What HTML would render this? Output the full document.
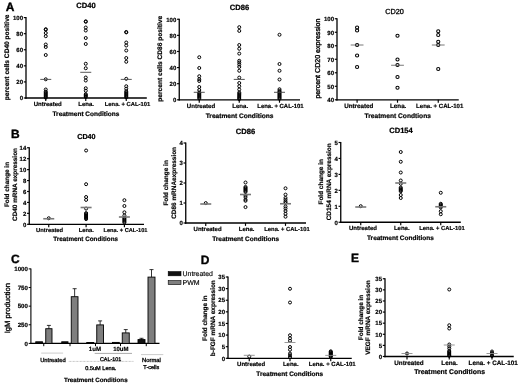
<!DOCTYPE html>
<html><head><meta charset="utf-8"><title>Figure</title>
<style>
html,body{margin:0;padding:0;background:#fff;}
body{width:520px;height:385px;overflow:hidden;}
svg{display:block;font-family:"Liberation Sans", sans-serif;text-rendering:geometricPrecision;filter:blur(0.4px);}
</style></head><body>
<svg width="520" height="385" viewBox="0 0 520 385">
<rect x="0" y="0" width="520" height="385" fill="#fff"/>
<line x1="26" y1="17.1" x2="26" y2="98.65" stroke="#000" stroke-width="1.3"/>
<line x1="25.35" y1="98.0" x2="146.8" y2="98.0" stroke="#000" stroke-width="1.3"/>
<line x1="23.8" y1="98.0" x2="26" y2="98.0" stroke="#000" stroke-width="1.1700000000000002"/>
<text x="23.0" y="100.25" font-size="6.0" font-weight="bold" text-anchor="end" fill="#000" stroke="#000" stroke-width="0.18">0</text>
<line x1="23.8" y1="81.92" x2="26" y2="81.92" stroke="#000" stroke-width="1.1700000000000002"/>
<text x="23.0" y="84.17" font-size="6.0" font-weight="bold" text-anchor="end" fill="#000" stroke="#000" stroke-width="0.18">20</text>
<line x1="23.8" y1="65.84" x2="26" y2="65.84" stroke="#000" stroke-width="1.1700000000000002"/>
<text x="23.0" y="68.09" font-size="6.0" font-weight="bold" text-anchor="end" fill="#000" stroke="#000" stroke-width="0.18">40</text>
<line x1="23.8" y1="49.76" x2="26" y2="49.76" stroke="#000" stroke-width="1.1700000000000002"/>
<text x="23.0" y="52.01" font-size="6.0" font-weight="bold" text-anchor="end" fill="#000" stroke="#000" stroke-width="0.18">60</text>
<line x1="23.8" y1="33.67999999999999" x2="26" y2="33.67999999999999" stroke="#000" stroke-width="1.1700000000000002"/>
<text x="23.0" y="35.93" font-size="6.0" font-weight="bold" text-anchor="end" fill="#000" stroke="#000" stroke-width="0.18">80</text>
<line x1="23.8" y1="17.599999999999994" x2="26" y2="17.599999999999994" stroke="#000" stroke-width="1.1700000000000002"/>
<text x="23.0" y="19.85" font-size="6.0" font-weight="bold" text-anchor="end" fill="#000" stroke="#000" stroke-width="0.18">100</text>
<line x1="45.75" y1="98.0" x2="45.75" y2="100.9" stroke="#000" stroke-width="1.1700000000000002"/>
<text x="47.65" y="106.0" font-size="6.0" font-weight="bold" text-anchor="middle" fill="#000" stroke="#000" stroke-width="0.18">Untreated</text>
<line x1="85.75" y1="98.0" x2="85.75" y2="100.9" stroke="#000" stroke-width="1.1700000000000002"/>
<text x="86.1" y="106.0" font-size="6.0" font-weight="bold" text-anchor="middle" fill="#000" stroke="#000" stroke-width="0.18">Lena.</text>
<line x1="126.25" y1="98.0" x2="126.25" y2="100.9" stroke="#000" stroke-width="1.1700000000000002"/>
<text x="127.5" y="106.0" font-size="5.82" font-weight="bold" text-anchor="middle" fill="#000" stroke="#000" stroke-width="0.17">Lena. + CAL-101</text>
<text x="85.9" y="116.0" font-size="6.5" font-weight="bold" text-anchor="middle" fill="#000" stroke="#000" stroke-width="0.20">Treatment Conditions</text>
<text x="85.9" y="8.0" font-size="7.6" font-weight="bold" text-anchor="middle" fill="#000" stroke="#000" stroke-width="0.23">CD40</text>
<text x="0" y="2.36" font-size="6.6" font-weight="bold" text-anchor="middle" fill="#000" stroke="#000" stroke-width="0.20" transform="translate(7.0 57.4) rotate(-90)">percent cells CD40 positive</text>
<circle cx="45.75" cy="29.2" r="1.5" fill="none" stroke="#000" stroke-width="1.0"/>
<circle cx="45.75" cy="29.7" r="1.5" fill="none" stroke="#000" stroke-width="1.0"/>
<circle cx="45.75" cy="33" r="1.5" fill="none" stroke="#000" stroke-width="1.0"/>
<circle cx="45.75" cy="36.2" r="1.5" fill="none" stroke="#000" stroke-width="1.0"/>
<circle cx="45.75" cy="44.5" r="1.5" fill="none" stroke="#000" stroke-width="1.0"/>
<circle cx="45.75" cy="47" r="1.5" fill="none" stroke="#000" stroke-width="1.0"/>
<circle cx="45.75" cy="55" r="1.5" fill="none" stroke="#000" stroke-width="1.0"/>
<circle cx="45.75" cy="79.3" r="1.5" fill="none" stroke="#000" stroke-width="1.0"/>
<circle cx="45.75" cy="89.5" r="1.5" fill="none" stroke="#000" stroke-width="1.0"/>
<circle cx="45.75" cy="91.6" r="1.5" fill="none" stroke="#000" stroke-width="1.0"/>
<circle cx="45.75" cy="92.6" r="1.5" fill="none" stroke="#000" stroke-width="1.0"/>
<circle cx="45.75" cy="93.6" r="1.5" fill="none" stroke="#000" stroke-width="1.0"/>
<circle cx="45.75" cy="94.6" r="1.5" fill="none" stroke="#000" stroke-width="1.0"/>
<circle cx="45.75" cy="95.6" r="1.5" fill="none" stroke="#000" stroke-width="1.0"/>
<circle cx="45.75" cy="96.6" r="1.5" fill="none" stroke="#000" stroke-width="1.0"/>
<circle cx="45.75" cy="97.6" r="1.5" fill="none" stroke="#000" stroke-width="1.0"/>
<line x1="40.25" y1="79.4" x2="51.25" y2="79.4" stroke="#505050" stroke-width="0.95"/>
<circle cx="85.75" cy="21.3" r="1.5" fill="none" stroke="#000" stroke-width="1.0"/>
<circle cx="85.75" cy="21.8" r="1.5" fill="none" stroke="#000" stroke-width="1.0"/>
<circle cx="85.75" cy="27.5" r="1.5" fill="none" stroke="#000" stroke-width="1.0"/>
<circle cx="85.75" cy="30.5" r="1.5" fill="none" stroke="#000" stroke-width="1.0"/>
<circle cx="85.75" cy="38" r="1.5" fill="none" stroke="#000" stroke-width="1.0"/>
<circle cx="85.75" cy="44" r="1.5" fill="none" stroke="#000" stroke-width="1.0"/>
<circle cx="85.75" cy="63.75" r="1.5" fill="none" stroke="#000" stroke-width="1.0"/>
<circle cx="85.75" cy="68.25" r="1.5" fill="none" stroke="#000" stroke-width="1.0"/>
<circle cx="85.75" cy="77.5" r="1.5" fill="none" stroke="#000" stroke-width="1.0"/>
<circle cx="85.75" cy="80.5" r="1.5" fill="none" stroke="#000" stroke-width="1.0"/>
<circle cx="85.75" cy="88.25" r="1.5" fill="none" stroke="#000" stroke-width="1.0"/>
<circle cx="85.75" cy="90.75" r="1.5" fill="none" stroke="#000" stroke-width="1.0"/>
<circle cx="85.75" cy="94.2" r="1.5" fill="none" stroke="#000" stroke-width="1.0"/>
<circle cx="85.75" cy="95.1" r="1.5" fill="none" stroke="#000" stroke-width="1.0"/>
<circle cx="85.75" cy="96.0" r="1.5" fill="none" stroke="#000" stroke-width="1.0"/>
<circle cx="85.75" cy="96.9" r="1.5" fill="none" stroke="#000" stroke-width="1.0"/>
<line x1="80.25" y1="72.3" x2="91.25" y2="72.3" stroke="#505050" stroke-width="0.95"/>
<circle cx="126.25" cy="32" r="1.5" fill="none" stroke="#000" stroke-width="1.0"/>
<circle cx="126.25" cy="32.4" r="1.5" fill="none" stroke="#000" stroke-width="1.0"/>
<circle cx="126.25" cy="42.5" r="1.5" fill="none" stroke="#000" stroke-width="1.0"/>
<circle cx="126.25" cy="45.5" r="1.5" fill="none" stroke="#000" stroke-width="1.0"/>
<circle cx="126.25" cy="50.5" r="1.5" fill="none" stroke="#000" stroke-width="1.0"/>
<circle cx="126.25" cy="58" r="1.5" fill="none" stroke="#000" stroke-width="1.0"/>
<circle cx="126.25" cy="61.75" r="1.5" fill="none" stroke="#000" stroke-width="1.0"/>
<circle cx="126.25" cy="78.8" r="1.5" fill="none" stroke="#000" stroke-width="1.0"/>
<circle cx="126.25" cy="86.25" r="1.5" fill="none" stroke="#000" stroke-width="1.0"/>
<circle cx="126.25" cy="88.75" r="1.5" fill="none" stroke="#000" stroke-width="1.0"/>
<circle cx="126.25" cy="91.25" r="1.5" fill="none" stroke="#000" stroke-width="1.0"/>
<circle cx="126.25" cy="92.4" r="1.5" fill="none" stroke="#000" stroke-width="1.0"/>
<circle cx="126.25" cy="93.4" r="1.5" fill="none" stroke="#000" stroke-width="1.0"/>
<circle cx="126.25" cy="94.4" r="1.5" fill="none" stroke="#000" stroke-width="1.0"/>
<circle cx="126.25" cy="95.4" r="1.5" fill="none" stroke="#000" stroke-width="1.0"/>
<circle cx="126.25" cy="96.4" r="1.5" fill="none" stroke="#000" stroke-width="1.0"/>
<circle cx="126.25" cy="97.4" r="1.5" fill="none" stroke="#000" stroke-width="1.0"/>
<line x1="120.75" y1="79.4" x2="131.75" y2="79.4" stroke="#505050" stroke-width="0.95"/>
<line x1="179.25" y1="18.75" x2="179.25" y2="100.45" stroke="#000" stroke-width="1.3"/>
<line x1="178.6" y1="99.8" x2="300" y2="99.8" stroke="#000" stroke-width="1.3"/>
<line x1="177.05" y1="99.8" x2="179.25" y2="99.8" stroke="#000" stroke-width="1.1700000000000002"/>
<text x="176.25" y="102.05" font-size="6.0" font-weight="bold" text-anchor="end" fill="#000" stroke="#000" stroke-width="0.18">0</text>
<line x1="177.05" y1="83.69" x2="179.25" y2="83.69" stroke="#000" stroke-width="1.1700000000000002"/>
<text x="176.25" y="85.94" font-size="6.0" font-weight="bold" text-anchor="end" fill="#000" stroke="#000" stroke-width="0.18">20</text>
<line x1="177.05" y1="67.58" x2="179.25" y2="67.58" stroke="#000" stroke-width="1.1700000000000002"/>
<text x="176.25" y="69.83" font-size="6.0" font-weight="bold" text-anchor="end" fill="#000" stroke="#000" stroke-width="0.18">40</text>
<line x1="177.05" y1="51.47" x2="179.25" y2="51.47" stroke="#000" stroke-width="1.1700000000000002"/>
<text x="176.25" y="53.72" font-size="6.0" font-weight="bold" text-anchor="end" fill="#000" stroke="#000" stroke-width="0.18">60</text>
<line x1="177.05" y1="35.36" x2="179.25" y2="35.36" stroke="#000" stroke-width="1.1700000000000002"/>
<text x="176.25" y="37.61" font-size="6.0" font-weight="bold" text-anchor="end" fill="#000" stroke="#000" stroke-width="0.18">80</text>
<line x1="177.05" y1="19.25" x2="179.25" y2="19.25" stroke="#000" stroke-width="1.1700000000000002"/>
<text x="176.25" y="21.5" font-size="6.0" font-weight="bold" text-anchor="end" fill="#000" stroke="#000" stroke-width="0.18">100</text>
<line x1="199.25" y1="99.8" x2="199.25" y2="102.7" stroke="#000" stroke-width="1.1700000000000002"/>
<text x="201" y="108.0" font-size="6.1" font-weight="bold" text-anchor="middle" fill="#000" stroke="#000" stroke-width="0.18">Untreated</text>
<line x1="239.25" y1="99.8" x2="239.25" y2="102.7" stroke="#000" stroke-width="1.1700000000000002"/>
<text x="240.2" y="108.0" font-size="6.1" font-weight="bold" text-anchor="middle" fill="#000" stroke="#000" stroke-width="0.18">Lena.</text>
<line x1="279.5" y1="99.8" x2="279.5" y2="102.7" stroke="#000" stroke-width="1.1700000000000002"/>
<text x="280.5" y="108.0" font-size="5.95" font-weight="bold" text-anchor="middle" fill="#000" stroke="#000" stroke-width="0.18">Lena. + CAL-101</text>
<text x="239.6" y="118.0" font-size="6.6" font-weight="bold" text-anchor="middle" fill="#000" stroke="#000" stroke-width="0.20">Treatment Conditions</text>
<text x="239.5" y="10.0" font-size="7.6" font-weight="bold" text-anchor="middle" fill="#000" stroke="#000" stroke-width="0.23">CD86</text>
<text x="0" y="2.36" font-size="6.6" font-weight="bold" text-anchor="middle" fill="#000" stroke="#000" stroke-width="0.20" transform="translate(160.05 58.8) rotate(-90)">percent cells CD86 positive</text>
<circle cx="199.25" cy="57.25" r="1.5" fill="none" stroke="#000" stroke-width="1.0"/>
<circle cx="199.25" cy="68" r="1.5" fill="none" stroke="#000" stroke-width="1.0"/>
<circle cx="199.25" cy="76.25" r="1.5" fill="none" stroke="#000" stroke-width="1.0"/>
<circle cx="199.25" cy="79.25" r="1.5" fill="none" stroke="#000" stroke-width="1.0"/>
<circle cx="199.25" cy="81" r="1.5" fill="none" stroke="#000" stroke-width="1.0"/>
<circle cx="199.25" cy="87" r="1.5" fill="none" stroke="#000" stroke-width="1.0"/>
<circle cx="199.25" cy="90" r="1.5" fill="none" stroke="#000" stroke-width="1.0"/>
<circle cx="199.25" cy="92.5" r="1.5" fill="none" stroke="#000" stroke-width="1.0"/>
<circle cx="199.25" cy="93.5" r="1.5" fill="none" stroke="#000" stroke-width="1.0"/>
<circle cx="199.25" cy="94.5" r="1.5" fill="none" stroke="#000" stroke-width="1.0"/>
<circle cx="199.25" cy="95.5" r="1.5" fill="none" stroke="#000" stroke-width="1.0"/>
<circle cx="199.25" cy="96.5" r="1.5" fill="none" stroke="#000" stroke-width="1.0"/>
<circle cx="199.25" cy="97.5" r="1.5" fill="none" stroke="#000" stroke-width="1.0"/>
<circle cx="199.25" cy="98.5" r="1.5" fill="none" stroke="#000" stroke-width="1.0"/>
<line x1="193.75" y1="92.3" x2="204.75" y2="92.3" stroke="#484848" stroke-width="0.95"/>
<circle cx="239.25" cy="27.2" r="1.5" fill="none" stroke="#000" stroke-width="1.0"/>
<circle cx="239.25" cy="30.9" r="1.5" fill="none" stroke="#000" stroke-width="1.0"/>
<circle cx="239.25" cy="45" r="1.5" fill="none" stroke="#000" stroke-width="1.0"/>
<circle cx="239.25" cy="48.75" r="1.5" fill="none" stroke="#000" stroke-width="1.0"/>
<circle cx="239.25" cy="53.6" r="1.5" fill="none" stroke="#000" stroke-width="1.0"/>
<circle cx="239.25" cy="60.75" r="1.5" fill="none" stroke="#000" stroke-width="1.0"/>
<circle cx="239.25" cy="62.5" r="1.5" fill="none" stroke="#000" stroke-width="1.0"/>
<circle cx="239.25" cy="64.5" r="1.5" fill="none" stroke="#000" stroke-width="1.0"/>
<circle cx="239.25" cy="66.9" r="1.5" fill="none" stroke="#000" stroke-width="1.0"/>
<circle cx="239.25" cy="70.75" r="1.5" fill="none" stroke="#000" stroke-width="1.0"/>
<circle cx="239.25" cy="77.6" r="1.5" fill="none" stroke="#000" stroke-width="1.0"/>
<circle cx="239.25" cy="83" r="1.5" fill="none" stroke="#000" stroke-width="1.0"/>
<circle cx="239.25" cy="86.25" r="1.5" fill="none" stroke="#000" stroke-width="1.0"/>
<circle cx="239.25" cy="89.5" r="1.5" fill="none" stroke="#000" stroke-width="1.0"/>
<circle cx="239.25" cy="92.5" r="1.5" fill="none" stroke="#000" stroke-width="1.0"/>
<circle cx="239.25" cy="93.6" r="1.5" fill="none" stroke="#000" stroke-width="1.0"/>
<circle cx="239.25" cy="94.7" r="1.5" fill="none" stroke="#000" stroke-width="1.0"/>
<circle cx="239.25" cy="95.8" r="1.5" fill="none" stroke="#000" stroke-width="1.0"/>
<circle cx="239.25" cy="96.9" r="1.5" fill="none" stroke="#000" stroke-width="1.0"/>
<circle cx="239.25" cy="98.0" r="1.5" fill="none" stroke="#000" stroke-width="1.0"/>
<circle cx="239.25" cy="99.1" r="1.5" fill="none" stroke="#000" stroke-width="1.0"/>
<line x1="233.75" y1="79.4" x2="244.75" y2="79.4" stroke="#484848" stroke-width="0.95"/>
<circle cx="279.5" cy="34.75" r="1.5" fill="none" stroke="#000" stroke-width="1.0"/>
<circle cx="279.5" cy="64" r="1.5" fill="none" stroke="#000" stroke-width="1.0"/>
<circle cx="279.5" cy="70.75" r="1.5" fill="none" stroke="#000" stroke-width="1.0"/>
<circle cx="279.5" cy="79.5" r="1.5" fill="none" stroke="#000" stroke-width="1.0"/>
<circle cx="279.5" cy="89.25" r="1.5" fill="none" stroke="#000" stroke-width="1.0"/>
<circle cx="279.5" cy="90.8" r="1.5" fill="none" stroke="#000" stroke-width="1.0"/>
<circle cx="279.5" cy="91.8" r="1.5" fill="none" stroke="#000" stroke-width="1.0"/>
<circle cx="279.5" cy="92.8" r="1.5" fill="none" stroke="#000" stroke-width="1.0"/>
<circle cx="279.5" cy="93.8" r="1.5" fill="none" stroke="#000" stroke-width="1.0"/>
<circle cx="279.5" cy="94.8" r="1.5" fill="none" stroke="#000" stroke-width="1.0"/>
<circle cx="279.5" cy="95.8" r="1.5" fill="none" stroke="#000" stroke-width="1.0"/>
<circle cx="279.5" cy="96.8" r="1.5" fill="none" stroke="#000" stroke-width="1.0"/>
<circle cx="279.5" cy="97.8" r="1.5" fill="none" stroke="#000" stroke-width="1.0"/>
<circle cx="279.5" cy="98.8" r="1.5" fill="none" stroke="#000" stroke-width="1.0"/>
<line x1="274.0" y1="92.3" x2="285.0" y2="92.3" stroke="#484848" stroke-width="0.95"/>
<line x1="337" y1="18.25" x2="337" y2="100.45" stroke="#000" stroke-width="1.3"/>
<line x1="336.35" y1="99.8" x2="458.75" y2="99.8" stroke="#000" stroke-width="1.3"/>
<line x1="334.8" y1="99.8" x2="337" y2="99.8" stroke="#000" stroke-width="1.1700000000000002"/>
<text x="334.0" y="102.05" font-size="6.0" font-weight="bold" text-anchor="end" fill="#000" stroke="#000" stroke-width="0.18">40</text>
<line x1="334.8" y1="86.29166666666666" x2="337" y2="86.29166666666666" stroke="#000" stroke-width="1.1700000000000002"/>
<text x="334.0" y="88.54" font-size="6.0" font-weight="bold" text-anchor="end" fill="#000" stroke="#000" stroke-width="0.18">50</text>
<line x1="334.8" y1="72.78333333333333" x2="337" y2="72.78333333333333" stroke="#000" stroke-width="1.1700000000000002"/>
<text x="334.0" y="75.03" font-size="6.0" font-weight="bold" text-anchor="end" fill="#000" stroke="#000" stroke-width="0.18">60</text>
<line x1="334.8" y1="59.275" x2="337" y2="59.275" stroke="#000" stroke-width="1.1700000000000002"/>
<text x="334.0" y="61.52" font-size="6.0" font-weight="bold" text-anchor="end" fill="#000" stroke="#000" stroke-width="0.18">70</text>
<line x1="334.8" y1="45.766666666666666" x2="337" y2="45.766666666666666" stroke="#000" stroke-width="1.1700000000000002"/>
<text x="334.0" y="48.02" font-size="6.0" font-weight="bold" text-anchor="end" fill="#000" stroke="#000" stroke-width="0.18">80</text>
<line x1="334.8" y1="32.258333333333326" x2="337" y2="32.258333333333326" stroke="#000" stroke-width="1.1700000000000002"/>
<text x="334.0" y="34.51" font-size="6.0" font-weight="bold" text-anchor="end" fill="#000" stroke="#000" stroke-width="0.18">90</text>
<line x1="334.8" y1="18.75" x2="337" y2="18.75" stroke="#000" stroke-width="1.1700000000000002"/>
<text x="334.0" y="21.0" font-size="6.0" font-weight="bold" text-anchor="end" fill="#000" stroke="#000" stroke-width="0.18">100</text>
<line x1="357.1" y1="99.8" x2="357.1" y2="102.7" stroke="#000" stroke-width="1.1700000000000002"/>
<text x="358.8" y="108.0" font-size="6.25" font-weight="bold" text-anchor="middle" fill="#000" stroke="#000" stroke-width="0.19">Untreated</text>
<line x1="397.5" y1="99.8" x2="397.5" y2="102.7" stroke="#000" stroke-width="1.1700000000000002"/>
<text x="398.2" y="108.0" font-size="6.25" font-weight="bold" text-anchor="middle" fill="#000" stroke="#000" stroke-width="0.19">Lena.</text>
<line x1="438.25" y1="99.8" x2="438.25" y2="102.7" stroke="#000" stroke-width="1.1700000000000002"/>
<text x="439.7" y="108.0" font-size="6.05" font-weight="bold" text-anchor="middle" fill="#000" stroke="#000" stroke-width="0.18">Lena. + CAL-101</text>
<text x="397.7" y="118.0" font-size="6.65" font-weight="bold" text-anchor="middle" fill="#000" stroke="#000" stroke-width="0.20">Treatment Condtions</text>
<text x="394.6" y="14.0" font-size="7.3" font-weight="normal" text-anchor="middle" fill="#000" stroke="#000" stroke-width="0.3">CD20</text>
<text x="0" y="2.54" font-size="7.1" font-weight="normal" text-anchor="middle" fill="#000" stroke="#000" stroke-width="0.35" transform="translate(317.90000000000003 58.6) rotate(-90)">percent CD20 expression</text>
<circle cx="357.1" cy="27.5" r="1.58" fill="none" stroke="#000" stroke-width="1.05"/>
<circle cx="357.1" cy="30.5" r="1.58" fill="none" stroke="#000" stroke-width="1.05"/>
<circle cx="357.1" cy="45" r="1.58" fill="none" stroke="#000" stroke-width="1.05"/>
<circle cx="357.1" cy="55.5" r="1.58" fill="none" stroke="#000" stroke-width="1.05"/>
<circle cx="357.1" cy="67" r="1.58" fill="none" stroke="#000" stroke-width="1.05"/>
<line x1="350.70000000000005" y1="45" x2="363.5" y2="45" stroke="#555" stroke-width="0.8"/>
<circle cx="397.5" cy="35.75" r="1.58" fill="none" stroke="#000" stroke-width="1.05"/>
<circle cx="397.5" cy="59.5" r="1.58" fill="none" stroke="#000" stroke-width="1.05"/>
<circle cx="397.5" cy="65" r="1.58" fill="none" stroke="#000" stroke-width="1.05"/>
<circle cx="397.5" cy="77" r="1.58" fill="none" stroke="#000" stroke-width="1.05"/>
<circle cx="397.5" cy="87.75" r="1.58" fill="none" stroke="#000" stroke-width="1.05"/>
<line x1="391.1" y1="65.25" x2="403.9" y2="65.25" stroke="#555" stroke-width="0.8"/>
<circle cx="438.25" cy="31.25" r="1.58" fill="none" stroke="#000" stroke-width="1.05"/>
<circle cx="438.25" cy="35" r="1.58" fill="none" stroke="#000" stroke-width="1.05"/>
<circle cx="438.25" cy="41.75" r="1.58" fill="none" stroke="#000" stroke-width="1.05"/>
<circle cx="438.25" cy="45" r="1.58" fill="none" stroke="#000" stroke-width="1.05"/>
<circle cx="438.25" cy="69" r="1.58" fill="none" stroke="#000" stroke-width="1.05"/>
<line x1="431.85" y1="45" x2="444.65" y2="45" stroke="#555" stroke-width="0.8"/>
<line x1="29.25" y1="147.25" x2="29.25" y2="224.95000000000002" stroke="#000" stroke-width="1.3"/>
<line x1="28.6" y1="224.3" x2="144" y2="224.3" stroke="#000" stroke-width="1.3"/>
<line x1="27.05" y1="224.3" x2="29.25" y2="224.3" stroke="#000" stroke-width="1.1700000000000002"/>
<text x="26.25" y="226.55" font-size="6.0" font-weight="bold" text-anchor="end" fill="#000" stroke="#000" stroke-width="0.18">0</text>
<line x1="27.05" y1="213.36428571428573" x2="29.25" y2="213.36428571428573" stroke="#000" stroke-width="1.1700000000000002"/>
<text x="26.25" y="215.61" font-size="6.0" font-weight="bold" text-anchor="end" fill="#000" stroke="#000" stroke-width="0.18">2</text>
<line x1="27.05" y1="202.42857142857144" x2="29.25" y2="202.42857142857144" stroke="#000" stroke-width="1.1700000000000002"/>
<text x="26.25" y="204.68" font-size="6.0" font-weight="bold" text-anchor="end" fill="#000" stroke="#000" stroke-width="0.18">4</text>
<line x1="27.05" y1="191.49285714285713" x2="29.25" y2="191.49285714285713" stroke="#000" stroke-width="1.1700000000000002"/>
<text x="26.25" y="193.74" font-size="6.0" font-weight="bold" text-anchor="end" fill="#000" stroke="#000" stroke-width="0.18">6</text>
<line x1="27.05" y1="180.55714285714288" x2="29.25" y2="180.55714285714288" stroke="#000" stroke-width="1.1700000000000002"/>
<text x="26.25" y="182.81" font-size="6.0" font-weight="bold" text-anchor="end" fill="#000" stroke="#000" stroke-width="0.18">8</text>
<line x1="27.05" y1="169.62142857142857" x2="29.25" y2="169.62142857142857" stroke="#000" stroke-width="1.1700000000000002"/>
<text x="26.25" y="171.87" font-size="6.0" font-weight="bold" text-anchor="end" fill="#000" stroke="#000" stroke-width="0.18">10</text>
<line x1="27.05" y1="158.68571428571428" x2="29.25" y2="158.68571428571428" stroke="#000" stroke-width="1.1700000000000002"/>
<text x="26.25" y="160.94" font-size="6.0" font-weight="bold" text-anchor="end" fill="#000" stroke="#000" stroke-width="0.18">12</text>
<line x1="27.05" y1="147.75" x2="29.25" y2="147.75" stroke="#000" stroke-width="1.1700000000000002"/>
<text x="26.25" y="150.0" font-size="6.0" font-weight="bold" text-anchor="end" fill="#000" stroke="#000" stroke-width="0.18">14</text>
<line x1="48.75" y1="224.3" x2="48.75" y2="227.20000000000002" stroke="#000" stroke-width="1.1700000000000002"/>
<text x="49.6" y="232.0" font-size="5.8" font-weight="bold" text-anchor="middle" fill="#000" stroke="#000" stroke-width="0.17">Untreated</text>
<line x1="86.1" y1="224.3" x2="86.1" y2="227.20000000000002" stroke="#000" stroke-width="1.1700000000000002"/>
<text x="86.2" y="232.0" font-size="5.8" font-weight="bold" text-anchor="middle" fill="#000" stroke="#000" stroke-width="0.17">Lena.</text>
<line x1="124.4" y1="224.3" x2="124.4" y2="227.20000000000002" stroke="#000" stroke-width="1.1700000000000002"/>
<text x="125.5" y="232.0" font-size="5.63" font-weight="bold" text-anchor="middle" fill="#000" stroke="#000" stroke-width="0.17">Lena. + CAL-101</text>
<text x="85.7" y="241.0" font-size="6.3" font-weight="bold" text-anchor="middle" fill="#000" stroke="#000" stroke-width="0.19">Treatment Conditions</text>
<text x="86.4" y="139.0" font-size="7.2" font-weight="bold" text-anchor="middle" fill="#000" stroke="#000" stroke-width="0.22">CD40</text>
<text x="0" y="2.29" font-size="6.4" font-weight="bold" text-anchor="middle" fill="#000" stroke="#000" stroke-width="0.19" transform="translate(7.1 184.5) rotate(-90)">Fold change in</text>
<text x="0" y="2.29" font-size="6.4" font-weight="bold" text-anchor="middle" fill="#000" stroke="#000" stroke-width="0.19" transform="translate(14.3 184.5) rotate(-90)">CD40 mRNA expression</text>
<circle cx="48.75" cy="218.25" r="1.5" fill="none" stroke="#000" stroke-width="1.0"/>
<line x1="43.25" y1="218.75" x2="54.25" y2="218.75" stroke="#787878" stroke-width="1.6"/>
<circle cx="86.1" cy="150.5" r="1.5" fill="none" stroke="#000" stroke-width="1.0"/>
<circle cx="86.1" cy="184.2" r="1.5" fill="none" stroke="#000" stroke-width="1.0"/>
<circle cx="86.1" cy="197" r="1.5" fill="none" stroke="#000" stroke-width="1.0"/>
<circle cx="86.1" cy="199.9" r="1.5" fill="none" stroke="#000" stroke-width="1.0"/>
<circle cx="86.1" cy="208.6" r="1.5" fill="none" stroke="#000" stroke-width="1.0"/>
<circle cx="86.1" cy="213.1" r="1.5" fill="none" stroke="#000" stroke-width="1.0"/>
<circle cx="86.1" cy="214.1" r="1.5" fill="none" stroke="#000" stroke-width="1.0"/>
<circle cx="86.1" cy="215.1" r="1.5" fill="none" stroke="#000" stroke-width="1.0"/>
<circle cx="86.1" cy="216.1" r="1.5" fill="none" stroke="#000" stroke-width="1.0"/>
<circle cx="86.1" cy="217.1" r="1.5" fill="none" stroke="#000" stroke-width="1.0"/>
<circle cx="86.1" cy="218.1" r="1.5" fill="none" stroke="#000" stroke-width="1.0"/>
<circle cx="86.1" cy="219.1" r="1.5" fill="none" stroke="#000" stroke-width="1.0"/>
<line x1="80.6" y1="207.5" x2="91.6" y2="207.5" stroke="#787878" stroke-width="1.6"/>
<circle cx="124.4" cy="200.2" r="1.5" fill="none" stroke="#000" stroke-width="1.0"/>
<circle cx="124.4" cy="206" r="1.5" fill="none" stroke="#000" stroke-width="1.0"/>
<circle cx="124.4" cy="212.3" r="1.5" fill="none" stroke="#000" stroke-width="1.0"/>
<circle cx="124.4" cy="215.5" r="1.5" fill="none" stroke="#000" stroke-width="1.0"/>
<circle cx="124.4" cy="217.6" r="1.5" fill="none" stroke="#000" stroke-width="1.0"/>
<circle cx="124.4" cy="218.6" r="1.5" fill="none" stroke="#000" stroke-width="1.0"/>
<circle cx="124.4" cy="219.6" r="1.5" fill="none" stroke="#000" stroke-width="1.0"/>
<circle cx="124.4" cy="220.6" r="1.5" fill="none" stroke="#000" stroke-width="1.0"/>
<circle cx="124.4" cy="221.6" r="1.5" fill="none" stroke="#000" stroke-width="1.0"/>
<circle cx="124.4" cy="222.6" r="1.5" fill="none" stroke="#000" stroke-width="1.0"/>
<line x1="118.9" y1="217" x2="129.9" y2="217" stroke="#787878" stroke-width="1.6"/>
<line x1="185.75" y1="142.5" x2="185.75" y2="223.65" stroke="#000" stroke-width="1.3"/>
<line x1="185.1" y1="223.0" x2="306" y2="223.0" stroke="#000" stroke-width="1.3"/>
<line x1="183.55" y1="223.0" x2="185.75" y2="223.0" stroke="#000" stroke-width="1.1700000000000002"/>
<text x="182.75" y="225.25" font-size="6.0" font-weight="bold" text-anchor="end" fill="#000" stroke="#000" stroke-width="0.18">0</text>
<line x1="183.55" y1="203.0" x2="185.75" y2="203.0" stroke="#000" stroke-width="1.1700000000000002"/>
<text x="182.75" y="205.25" font-size="6.0" font-weight="bold" text-anchor="end" fill="#000" stroke="#000" stroke-width="0.18">1</text>
<line x1="183.55" y1="183.0" x2="185.75" y2="183.0" stroke="#000" stroke-width="1.1700000000000002"/>
<text x="182.75" y="185.25" font-size="6.0" font-weight="bold" text-anchor="end" fill="#000" stroke="#000" stroke-width="0.18">2</text>
<line x1="183.55" y1="163.0" x2="185.75" y2="163.0" stroke="#000" stroke-width="1.1700000000000002"/>
<text x="182.75" y="165.25" font-size="6.0" font-weight="bold" text-anchor="end" fill="#000" stroke="#000" stroke-width="0.18">3</text>
<line x1="183.55" y1="143.0" x2="185.75" y2="143.0" stroke="#000" stroke-width="1.1700000000000002"/>
<text x="182.75" y="145.25" font-size="6.0" font-weight="bold" text-anchor="end" fill="#000" stroke="#000" stroke-width="0.18">4</text>
<line x1="205.75" y1="223.0" x2="205.75" y2="225.9" stroke="#000" stroke-width="1.1700000000000002"/>
<text x="207.6" y="231.0" font-size="6.0" font-weight="bold" text-anchor="middle" fill="#000" stroke="#000" stroke-width="0.18">Untreated</text>
<line x1="245.5" y1="223.0" x2="245.5" y2="225.9" stroke="#000" stroke-width="1.1700000000000002"/>
<text x="246.6" y="231.0" font-size="6.0" font-weight="bold" text-anchor="middle" fill="#000" stroke="#000" stroke-width="0.18">Lena.</text>
<line x1="285.5" y1="223.0" x2="285.5" y2="225.9" stroke="#000" stroke-width="1.1700000000000002"/>
<text x="287" y="231.0" font-size="5.82" font-weight="bold" text-anchor="middle" fill="#000" stroke="#000" stroke-width="0.17">Lena. + CAL-101</text>
<text x="245.6" y="241.0" font-size="6.5" font-weight="bold" text-anchor="middle" fill="#000" stroke="#000" stroke-width="0.20">Treatment Conditions</text>
<text x="245.5" y="134.0" font-size="7.6" font-weight="bold" text-anchor="middle" fill="#000" stroke="#000" stroke-width="0.23">CD86</text>
<text x="0" y="2.31" font-size="6.45" font-weight="bold" text-anchor="middle" fill="#000" stroke="#000" stroke-width="0.19" transform="translate(166.0 182.9) rotate(-90)">Fold change in</text>
<text x="0" y="2.31" font-size="6.45" font-weight="bold" text-anchor="middle" fill="#000" stroke="#000" stroke-width="0.19" transform="translate(173.3 182.9) rotate(-90)">CD86 mRNAexpression</text>
<circle cx="205.75" cy="203.1" r="1.5" fill="none" stroke="#000" stroke-width="1.0"/>
<line x1="200.25" y1="204" x2="211.25" y2="204" stroke="#787878" stroke-width="1.6"/>
<circle cx="245.5" cy="182.5" r="1.5" fill="none" stroke="#000" stroke-width="1.0"/>
<circle cx="245.5" cy="186.9" r="1.5" fill="none" stroke="#000" stroke-width="1.0"/>
<circle cx="245.5" cy="187.9" r="1.5" fill="none" stroke="#000" stroke-width="1.0"/>
<circle cx="245.5" cy="188.9" r="1.5" fill="none" stroke="#000" stroke-width="1.0"/>
<circle cx="245.5" cy="189.9" r="1.5" fill="none" stroke="#000" stroke-width="1.0"/>
<circle cx="245.5" cy="190.9" r="1.5" fill="none" stroke="#000" stroke-width="1.0"/>
<circle cx="245.5" cy="191.9" r="1.5" fill="none" stroke="#000" stroke-width="1.0"/>
<circle cx="245.5" cy="195.2" r="1.5" fill="none" stroke="#000" stroke-width="1.0"/>
<circle cx="245.5" cy="197" r="1.5" fill="none" stroke="#000" stroke-width="1.0"/>
<circle cx="245.5" cy="199.5" r="1.5" fill="none" stroke="#000" stroke-width="1.0"/>
<circle cx="245.5" cy="200.8" r="1.5" fill="none" stroke="#000" stroke-width="1.0"/>
<circle cx="245.5" cy="207.1" r="1.5" fill="none" stroke="#000" stroke-width="1.0"/>
<line x1="240.0" y1="194.5" x2="251.0" y2="194.5" stroke="#787878" stroke-width="1.6"/>
<circle cx="285.5" cy="188.3" r="1.5" fill="none" stroke="#000" stroke-width="1.0"/>
<circle cx="285.5" cy="194.6" r="1.5" fill="none" stroke="#000" stroke-width="1.0"/>
<circle cx="285.5" cy="197.9" r="1.5" fill="none" stroke="#000" stroke-width="1.0"/>
<circle cx="285.5" cy="199.8" r="1.5" fill="none" stroke="#000" stroke-width="1.0"/>
<circle cx="285.5" cy="201.7" r="1.5" fill="none" stroke="#000" stroke-width="1.0"/>
<circle cx="285.5" cy="203" r="1.5" fill="none" stroke="#000" stroke-width="1.0"/>
<circle cx="285.5" cy="206.5" r="1.5" fill="none" stroke="#000" stroke-width="1.0"/>
<circle cx="285.5" cy="208.5" r="1.5" fill="none" stroke="#000" stroke-width="1.0"/>
<circle cx="285.5" cy="211" r="1.5" fill="none" stroke="#000" stroke-width="1.0"/>
<circle cx="285.5" cy="213.8" r="1.5" fill="none" stroke="#000" stroke-width="1.0"/>
<circle cx="285.5" cy="216.7" r="1.5" fill="none" stroke="#000" stroke-width="1.0"/>
<line x1="280.0" y1="203.75" x2="291.0" y2="203.75" stroke="#787878" stroke-width="1.6"/>
<line x1="340.75" y1="142.0" x2="340.75" y2="222.9" stroke="#000" stroke-width="1.3"/>
<line x1="340.1" y1="222.25" x2="460.8" y2="222.25" stroke="#000" stroke-width="1.3"/>
<line x1="338.55" y1="222.25" x2="340.75" y2="222.25" stroke="#000" stroke-width="1.1700000000000002"/>
<text x="337.75" y="224.5" font-size="6.0" font-weight="bold" text-anchor="end" fill="#000" stroke="#000" stroke-width="0.18">0</text>
<line x1="338.55" y1="206.3" x2="340.75" y2="206.3" stroke="#000" stroke-width="1.1700000000000002"/>
<text x="337.75" y="208.55" font-size="6.0" font-weight="bold" text-anchor="end" fill="#000" stroke="#000" stroke-width="0.18">1</text>
<line x1="338.55" y1="190.35" x2="340.75" y2="190.35" stroke="#000" stroke-width="1.1700000000000002"/>
<text x="337.75" y="192.6" font-size="6.0" font-weight="bold" text-anchor="end" fill="#000" stroke="#000" stroke-width="0.18">2</text>
<line x1="338.55" y1="174.4" x2="340.75" y2="174.4" stroke="#000" stroke-width="1.1700000000000002"/>
<text x="337.75" y="176.65" font-size="6.0" font-weight="bold" text-anchor="end" fill="#000" stroke="#000" stroke-width="0.18">3</text>
<line x1="338.55" y1="158.45" x2="340.75" y2="158.45" stroke="#000" stroke-width="1.1700000000000002"/>
<text x="337.75" y="160.7" font-size="6.0" font-weight="bold" text-anchor="end" fill="#000" stroke="#000" stroke-width="0.18">4</text>
<line x1="338.55" y1="142.5" x2="340.75" y2="142.5" stroke="#000" stroke-width="1.1700000000000002"/>
<text x="337.75" y="144.75" font-size="6.0" font-weight="bold" text-anchor="end" fill="#000" stroke="#000" stroke-width="0.18">5</text>
<line x1="360.75" y1="222.25" x2="360.75" y2="225.15" stroke="#000" stroke-width="1.1700000000000002"/>
<text x="362.9" y="230.0" font-size="6.0" font-weight="bold" text-anchor="middle" fill="#000" stroke="#000" stroke-width="0.18">Untreated</text>
<line x1="400.75" y1="222.25" x2="400.75" y2="225.15" stroke="#000" stroke-width="1.1700000000000002"/>
<text x="401.8" y="230.0" font-size="6.0" font-weight="bold" text-anchor="middle" fill="#000" stroke="#000" stroke-width="0.18">Lena.</text>
<line x1="440.75" y1="222.25" x2="440.75" y2="225.15" stroke="#000" stroke-width="1.1700000000000002"/>
<text x="442" y="230.0" font-size="5.82" font-weight="bold" text-anchor="middle" fill="#000" stroke="#000" stroke-width="0.17">Lena. + CAL-101</text>
<text x="400.4" y="240.0" font-size="6.5" font-weight="bold" text-anchor="middle" fill="#000" stroke="#000" stroke-width="0.20">Treatment Conditions</text>
<text x="401" y="133.0" font-size="7.6" font-weight="bold" text-anchor="middle" fill="#000" stroke="#000" stroke-width="0.23">CD154</text>
<text x="0" y="2.31" font-size="6.45" font-weight="bold" text-anchor="middle" fill="#000" stroke="#000" stroke-width="0.19" transform="translate(321.0 181.8) rotate(-90)">Fold change in</text>
<text x="0" y="2.31" font-size="6.45" font-weight="bold" text-anchor="middle" fill="#000" stroke="#000" stroke-width="0.19" transform="translate(328.5 181.8) rotate(-90)">CD154 mRNA expression</text>
<circle cx="360.75" cy="206.2" r="1.5" fill="none" stroke="#000" stroke-width="1.0"/>
<line x1="355.25" y1="207" x2="366.25" y2="207" stroke="#787878" stroke-width="1.6"/>
<circle cx="400.75" cy="152" r="1.5" fill="none" stroke="#000" stroke-width="1.0"/>
<circle cx="400.75" cy="161.75" r="1.5" fill="none" stroke="#000" stroke-width="1.0"/>
<circle cx="400.75" cy="172.5" r="1.5" fill="none" stroke="#000" stroke-width="1.0"/>
<circle cx="400.75" cy="180.5" r="1.5" fill="none" stroke="#000" stroke-width="1.0"/>
<circle cx="400.75" cy="183.75" r="1.5" fill="none" stroke="#000" stroke-width="1.0"/>
<circle cx="400.75" cy="187.5" r="1.5" fill="none" stroke="#000" stroke-width="1.0"/>
<circle cx="400.75" cy="188.5" r="1.5" fill="none" stroke="#000" stroke-width="1.0"/>
<circle cx="400.75" cy="189.5" r="1.5" fill="none" stroke="#000" stroke-width="1.0"/>
<circle cx="400.75" cy="190.4" r="1.5" fill="none" stroke="#000" stroke-width="1.0"/>
<circle cx="400.75" cy="191.25" r="1.5" fill="none" stroke="#000" stroke-width="1.0"/>
<circle cx="400.75" cy="195" r="1.5" fill="none" stroke="#000" stroke-width="1.0"/>
<circle cx="400.75" cy="198" r="1.5" fill="none" stroke="#000" stroke-width="1.0"/>
<line x1="395.25" y1="183" x2="406.25" y2="183" stroke="#787878" stroke-width="1.6"/>
<circle cx="440.75" cy="192.75" r="1.5" fill="none" stroke="#000" stroke-width="1.0"/>
<circle cx="440.75" cy="203.75" r="1.5" fill="none" stroke="#000" stroke-width="1.0"/>
<circle cx="440.75" cy="204.6" r="1.5" fill="none" stroke="#000" stroke-width="1.0"/>
<circle cx="440.75" cy="205.5" r="1.5" fill="none" stroke="#000" stroke-width="1.0"/>
<circle cx="440.75" cy="206.5" r="1.5" fill="none" stroke="#000" stroke-width="1.0"/>
<circle cx="440.75" cy="207.5" r="1.5" fill="none" stroke="#000" stroke-width="1.0"/>
<circle cx="440.75" cy="211.25" r="1.5" fill="none" stroke="#000" stroke-width="1.0"/>
<circle cx="440.75" cy="214.25" r="1.5" fill="none" stroke="#000" stroke-width="1.0"/>
<line x1="435.25" y1="206.75" x2="446.25" y2="206.75" stroke="#787878" stroke-width="1.6"/>
<line x1="228" y1="276.5" x2="228" y2="358.95" stroke="#000" stroke-width="1.3"/>
<line x1="227.35" y1="358.3" x2="351.75" y2="358.3" stroke="#000" stroke-width="1.3"/>
<line x1="225.8" y1="358.3" x2="228" y2="358.3" stroke="#000" stroke-width="1.1700000000000002"/>
<text x="225.0" y="360.55" font-size="6.0" font-weight="bold" text-anchor="end" fill="#000" stroke="#000" stroke-width="0.18">0</text>
<line x1="225.8" y1="346.6857142857143" x2="228" y2="346.6857142857143" stroke="#000" stroke-width="1.1700000000000002"/>
<text x="225.0" y="348.94" font-size="6.0" font-weight="bold" text-anchor="end" fill="#000" stroke="#000" stroke-width="0.18">5</text>
<line x1="225.8" y1="335.07142857142856" x2="228" y2="335.07142857142856" stroke="#000" stroke-width="1.1700000000000002"/>
<text x="225.0" y="337.32" font-size="6.0" font-weight="bold" text-anchor="end" fill="#000" stroke="#000" stroke-width="0.18">10</text>
<line x1="225.8" y1="323.45714285714286" x2="228" y2="323.45714285714286" stroke="#000" stroke-width="1.1700000000000002"/>
<text x="225.0" y="325.71" font-size="6.0" font-weight="bold" text-anchor="end" fill="#000" stroke="#000" stroke-width="0.18">15</text>
<line x1="225.8" y1="311.84285714285716" x2="228" y2="311.84285714285716" stroke="#000" stroke-width="1.1700000000000002"/>
<text x="225.0" y="314.09" font-size="6.0" font-weight="bold" text-anchor="end" fill="#000" stroke="#000" stroke-width="0.18">20</text>
<line x1="225.8" y1="300.22857142857146" x2="228" y2="300.22857142857146" stroke="#000" stroke-width="1.1700000000000002"/>
<text x="225.0" y="302.48" font-size="6.0" font-weight="bold" text-anchor="end" fill="#000" stroke="#000" stroke-width="0.18">25</text>
<line x1="225.8" y1="288.6142857142857" x2="228" y2="288.6142857142857" stroke="#000" stroke-width="1.1700000000000002"/>
<text x="225.0" y="290.86" font-size="6.0" font-weight="bold" text-anchor="end" fill="#000" stroke="#000" stroke-width="0.18">30</text>
<line x1="225.8" y1="277.0" x2="228" y2="277.0" stroke="#000" stroke-width="1.1700000000000002"/>
<text x="225.0" y="279.25" font-size="6.0" font-weight="bold" text-anchor="end" fill="#000" stroke="#000" stroke-width="0.18">35</text>
<line x1="249.25" y1="358.3" x2="249.25" y2="361.2" stroke="#000" stroke-width="1.1700000000000002"/>
<text x="251.1" y="366.0" font-size="6.0" font-weight="bold" text-anchor="middle" fill="#000" stroke="#000" stroke-width="0.18">Untreated</text>
<line x1="290" y1="358.3" x2="290" y2="361.2" stroke="#000" stroke-width="1.1700000000000002"/>
<text x="290.8" y="366.0" font-size="6.0" font-weight="bold" text-anchor="middle" fill="#000" stroke="#000" stroke-width="0.18">Lena.</text>
<line x1="330.75" y1="358.3" x2="330.75" y2="361.2" stroke="#000" stroke-width="1.1700000000000002"/>
<text x="332.3" y="366.0" font-size="6.0" font-weight="bold" text-anchor="middle" fill="#000" stroke="#000" stroke-width="0.18">Lena. + CAL-101</text>
<text x="289.7" y="376.0" font-size="6.5" font-weight="bold" text-anchor="middle" fill="#000" stroke="#000" stroke-width="0.20">Treatment Conditions</text>
<text x="0" y="2.31" font-size="6.45" font-weight="bold" text-anchor="middle" fill="#000" stroke="#000" stroke-width="0.19" transform="translate(204.70000000000002 318.2) rotate(-90)">Fold change in</text>
<text x="0" y="2.31" font-size="6.45" font-weight="bold" text-anchor="middle" fill="#000" stroke="#000" stroke-width="0.19" transform="translate(213.0 318.2) rotate(-90)">b-FGF mRNA expression</text>
<circle cx="249.25" cy="356.6" r="1.5" fill="none" stroke="#000" stroke-width="1.0"/>
<line x1="243.75" y1="355.3" x2="254.75" y2="355.3" stroke="#8c8c8c" stroke-width="0.9"/>
<circle cx="290" cy="288.75" r="1.5" fill="none" stroke="#000" stroke-width="1.0"/>
<circle cx="290" cy="302.5" r="1.5" fill="none" stroke="#000" stroke-width="1.0"/>
<circle cx="290" cy="335.25" r="1.5" fill="none" stroke="#000" stroke-width="1.0"/>
<circle cx="290" cy="338.25" r="1.5" fill="none" stroke="#000" stroke-width="1.0"/>
<circle cx="290" cy="340.75" r="1.5" fill="none" stroke="#000" stroke-width="1.0"/>
<circle cx="290" cy="347" r="1.5" fill="none" stroke="#000" stroke-width="1.0"/>
<circle cx="290" cy="349.75" r="1.5" fill="none" stroke="#000" stroke-width="1.0"/>
<circle cx="290" cy="353.5" r="1.5" fill="none" stroke="#000" stroke-width="1.0"/>
<circle cx="290" cy="355.25" r="1.5" fill="none" stroke="#000" stroke-width="1.0"/>
<circle cx="290" cy="357" r="1.5" fill="none" stroke="#000" stroke-width="1.0"/>
<line x1="284.5" y1="342.5" x2="295.5" y2="342.5" stroke="#8c8c8c" stroke-width="0.9"/>
<circle cx="330.75" cy="351.3" r="1.5" fill="none" stroke="#000" stroke-width="1.0"/>
<circle cx="330.75" cy="352.0" r="1.5" fill="none" stroke="#000" stroke-width="1.0"/>
<circle cx="330.75" cy="352.7" r="1.5" fill="none" stroke="#000" stroke-width="1.0"/>
<circle cx="330.75" cy="353.4" r="1.5" fill="none" stroke="#000" stroke-width="1.0"/>
<circle cx="330.75" cy="354.1" r="1.5" fill="none" stroke="#000" stroke-width="1.0"/>
<circle cx="330.75" cy="354.8" r="1.5" fill="none" stroke="#000" stroke-width="1.0"/>
<circle cx="330.75" cy="355.5" r="1.5" fill="none" stroke="#000" stroke-width="1.0"/>
<circle cx="330.75" cy="356.2" r="1.5" fill="none" stroke="#000" stroke-width="1.0"/>
<circle cx="330.75" cy="356.9" r="1.5" fill="none" stroke="#000" stroke-width="1.0"/>
<line x1="325.25" y1="355.4" x2="336.25" y2="355.4" stroke="#8c8c8c" stroke-width="0.9"/>
<line x1="385" y1="278.25" x2="385" y2="357.15" stroke="#000" stroke-width="1.3"/>
<line x1="384.35" y1="356.5" x2="513.75" y2="356.5" stroke="#000" stroke-width="1.3"/>
<line x1="382.8" y1="356.5" x2="385" y2="356.5" stroke="#000" stroke-width="1.1700000000000002"/>
<text x="382.0" y="358.75" font-size="6.0" font-weight="bold" text-anchor="end" fill="#000" stroke="#000" stroke-width="0.18">0</text>
<line x1="382.8" y1="345.39285714285717" x2="385" y2="345.39285714285717" stroke="#000" stroke-width="1.1700000000000002"/>
<text x="382.0" y="347.64" font-size="6.0" font-weight="bold" text-anchor="end" fill="#000" stroke="#000" stroke-width="0.18">5</text>
<line x1="382.8" y1="334.2857142857143" x2="385" y2="334.2857142857143" stroke="#000" stroke-width="1.1700000000000002"/>
<text x="382.0" y="336.54" font-size="6.0" font-weight="bold" text-anchor="end" fill="#000" stroke="#000" stroke-width="0.18">10</text>
<line x1="382.8" y1="323.17857142857144" x2="385" y2="323.17857142857144" stroke="#000" stroke-width="1.1700000000000002"/>
<text x="382.0" y="325.43" font-size="6.0" font-weight="bold" text-anchor="end" fill="#000" stroke="#000" stroke-width="0.18">15</text>
<line x1="382.8" y1="312.07142857142856" x2="385" y2="312.07142857142856" stroke="#000" stroke-width="1.1700000000000002"/>
<text x="382.0" y="314.32" font-size="6.0" font-weight="bold" text-anchor="end" fill="#000" stroke="#000" stroke-width="0.18">20</text>
<line x1="382.8" y1="300.9642857142857" x2="385" y2="300.9642857142857" stroke="#000" stroke-width="1.1700000000000002"/>
<text x="382.0" y="303.21" font-size="6.0" font-weight="bold" text-anchor="end" fill="#000" stroke="#000" stroke-width="0.18">25</text>
<line x1="382.8" y1="289.8571428571429" x2="385" y2="289.8571428571429" stroke="#000" stroke-width="1.1700000000000002"/>
<text x="382.0" y="292.11" font-size="6.0" font-weight="bold" text-anchor="end" fill="#000" stroke="#000" stroke-width="0.18">30</text>
<line x1="382.8" y1="278.75" x2="385" y2="278.75" stroke="#000" stroke-width="1.1700000000000002"/>
<text x="382.0" y="281.0" font-size="6.0" font-weight="bold" text-anchor="end" fill="#000" stroke="#000" stroke-width="0.18">35</text>
<line x1="407" y1="356.5" x2="407" y2="359.4" stroke="#000" stroke-width="1.1700000000000002"/>
<text x="409" y="365.0" font-size="6.3" font-weight="bold" text-anchor="middle" fill="#000" stroke="#000" stroke-width="0.19">Untreated</text>
<line x1="449.25" y1="356.5" x2="449.25" y2="359.4" stroke="#000" stroke-width="1.1700000000000002"/>
<text x="449.6" y="365.0" font-size="6.3" font-weight="bold" text-anchor="middle" fill="#000" stroke="#000" stroke-width="0.19">Lena.</text>
<line x1="492" y1="356.5" x2="492" y2="359.4" stroke="#000" stroke-width="1.1700000000000002"/>
<text x="493.2" y="365.0" font-size="6.3" font-weight="bold" text-anchor="middle" fill="#000" stroke="#000" stroke-width="0.19">Lena. + CAL-101</text>
<text x="449.6" y="374.0" font-size="6.9" font-weight="bold" text-anchor="middle" fill="#000" stroke="#000" stroke-width="0.21">Treatment Conditions</text>
<text x="0" y="2.31" font-size="6.45" font-weight="bold" text-anchor="middle" fill="#000" stroke="#000" stroke-width="0.19" transform="translate(360.5 317.5) rotate(-90)">Fold change in</text>
<text x="0" y="2.31" font-size="6.45" font-weight="bold" text-anchor="middle" fill="#000" stroke="#000" stroke-width="0.19" transform="translate(368.0 317.5) rotate(-90)">VEGF mRNA expression</text>
<circle cx="407" cy="353.5" r="1.5" fill="none" stroke="#000" stroke-width="1.0"/>
<line x1="401.5" y1="353.5" x2="412.5" y2="353.5" stroke="#8c8c8c" stroke-width="0.9"/>
<circle cx="449.25" cy="289.5" r="1.5" fill="none" stroke="#000" stroke-width="1.0"/>
<circle cx="449.25" cy="325.25" r="1.5" fill="none" stroke="#000" stroke-width="1.0"/>
<circle cx="449.25" cy="328.5" r="1.5" fill="none" stroke="#000" stroke-width="1.0"/>
<circle cx="449.25" cy="344.5" r="1.5" fill="none" stroke="#000" stroke-width="1.0"/>
<circle cx="449.25" cy="346.5" r="1.5" fill="none" stroke="#000" stroke-width="1.0"/>
<circle cx="449.25" cy="348.5" r="1.5" fill="none" stroke="#000" stroke-width="1.0"/>
<circle cx="449.25" cy="351" r="1.5" fill="none" stroke="#000" stroke-width="1.0"/>
<circle cx="449.25" cy="352" r="1.5" fill="none" stroke="#000" stroke-width="1.0"/>
<circle cx="449.25" cy="353" r="1.5" fill="none" stroke="#000" stroke-width="1.0"/>
<circle cx="449.25" cy="354" r="1.5" fill="none" stroke="#000" stroke-width="1.0"/>
<circle cx="449.25" cy="355" r="1.5" fill="none" stroke="#000" stroke-width="1.0"/>
<circle cx="449.25" cy="355.8" r="1.5" fill="none" stroke="#000" stroke-width="1.0"/>
<line x1="443.75" y1="345" x2="454.75" y2="345" stroke="#8c8c8c" stroke-width="0.9"/>
<circle cx="492" cy="351.5" r="1.5" fill="none" stroke="#000" stroke-width="1.0"/>
<circle cx="492" cy="353" r="1.5" fill="none" stroke="#000" stroke-width="1.0"/>
<circle cx="492" cy="354.5" r="1.5" fill="none" stroke="#000" stroke-width="1.0"/>
<circle cx="492" cy="356" r="1.5" fill="none" stroke="#000" stroke-width="1.0"/>
<line x1="486.5" y1="353.5" x2="497.5" y2="353.5" stroke="#8c8c8c" stroke-width="0.9"/>
<text x="10.15" y="11.0" font-size="12" font-weight="bold" text-anchor="middle" fill="#000" stroke="#000" stroke-width="0.36">A</text>
<text x="15.3" y="138.0" font-size="12" font-weight="bold" text-anchor="middle" fill="#000" stroke="#000" stroke-width="0.36">B</text>
<text x="15.3" y="263.0" font-size="12" font-weight="bold" text-anchor="middle" fill="#000" stroke="#000" stroke-width="0.36">C</text>
<text x="205.2" y="264.0" font-size="12" font-weight="bold" text-anchor="middle" fill="#000" stroke="#000" stroke-width="0.36">D</text>
<text x="355.1" y="262.0" font-size="12" font-weight="bold" text-anchor="middle" fill="#000" stroke="#000" stroke-width="0.36">E</text>
<line x1="30.9" y1="268.4" x2="30.9" y2="343.9" stroke="#000" stroke-width="1.1"/>
<line x1="30.4" y1="343.4" x2="159.5" y2="343.4" stroke="#000" stroke-width="1.1"/>
<line x1="28.7" y1="343.4" x2="30.9" y2="343.4" stroke="#000" stroke-width="1"/>
<text x="27.9" y="345.68" font-size="6.1" font-weight="bold" text-anchor="end" fill="#000" stroke="#000" stroke-width="0.18">0</text>
<line x1="28.7" y1="324.775" x2="30.9" y2="324.775" stroke="#000" stroke-width="1"/>
<text x="27.9" y="327.06" font-size="6.1" font-weight="bold" text-anchor="end" fill="#000" stroke="#000" stroke-width="0.18">250</text>
<line x1="28.7" y1="306.15" x2="30.9" y2="306.15" stroke="#000" stroke-width="1"/>
<text x="27.9" y="308.43" font-size="6.1" font-weight="bold" text-anchor="end" fill="#000" stroke="#000" stroke-width="0.18">500</text>
<line x1="28.7" y1="287.525" x2="30.9" y2="287.525" stroke="#000" stroke-width="1"/>
<text x="27.9" y="289.81" font-size="6.1" font-weight="bold" text-anchor="end" fill="#000" stroke="#000" stroke-width="0.18">750</text>
<line x1="28.7" y1="268.9" x2="30.9" y2="268.9" stroke="#000" stroke-width="1"/>
<text x="27.9" y="271.18" font-size="6.1" font-weight="bold" text-anchor="end" fill="#000" stroke="#000" stroke-width="0.18">1000</text>
<text x="0" y="2.72" font-size="7.6" font-weight="normal" text-anchor="middle" fill="#000" stroke="#000" stroke-width="0.3" transform="translate(7.3 308.2) rotate(-90)">IgM production</text>
<rect x="35.75" y="341.8" width="6.75" height="1.599999999999966" fill="#111" stroke="#000" stroke-width="0.9"/>
<rect x="45.75" y="328.7" width="6.25" height="14.699999999999989" fill="#7e7e7e" stroke="#000" stroke-width="0.9"/>
<line x1="48.875" y1="328.7" x2="48.875" y2="325.4" stroke="#000" stroke-width="0.8"/>
<line x1="46.875" y1="325.4" x2="50.875" y2="325.4" stroke="#000" stroke-width="0.8"/>
<rect x="61.75" y="341.8" width="6.25" height="1.599999999999966" fill="#111" stroke="#000" stroke-width="0.9"/>
<rect x="71.25" y="296.7" width="6.75" height="46.69999999999999" fill="#7e7e7e" stroke="#000" stroke-width="0.9"/>
<line x1="74.625" y1="296.7" x2="74.625" y2="288.7" stroke="#000" stroke-width="0.8"/>
<line x1="72.625" y1="288.7" x2="76.625" y2="288.7" stroke="#000" stroke-width="0.8"/>
<rect x="86.75" y="342.5" width="7.0" height="0.8999999999999773" fill="#111" stroke="#000" stroke-width="0.9"/>
<rect x="96.75" y="324.9" width="6.75" height="18.5" fill="#7e7e7e" stroke="#000" stroke-width="0.9"/>
<line x1="100.125" y1="324.9" x2="100.125" y2="320.9" stroke="#000" stroke-width="0.8"/>
<line x1="98.125" y1="320.9" x2="102.125" y2="320.9" stroke="#000" stroke-width="0.8"/>
<rect x="112.5" y="342.4" width="6.75" height="1.0" fill="#111" stroke="#000" stroke-width="0.9"/>
<rect x="122.25" y="332.9" width="7.0" height="10.5" fill="#7e7e7e" stroke="#000" stroke-width="0.9"/>
<line x1="125.75" y1="332.9" x2="125.75" y2="329.6" stroke="#000" stroke-width="0.8"/>
<line x1="123.75" y1="329.6" x2="127.75" y2="329.6" stroke="#000" stroke-width="0.8"/>
<rect x="138" y="339.6" width="7" height="3.7999999999999545" fill="#111" stroke="#000" stroke-width="0.9"/>
<line x1="141.5" y1="339.6" x2="141.5" y2="338.3" stroke="#000" stroke-width="0.8"/>
<line x1="139.5" y1="338.3" x2="143.5" y2="338.3" stroke="#000" stroke-width="0.8"/>
<rect x="148" y="277.1" width="7" height="66.29999999999995" fill="#7e7e7e" stroke="#000" stroke-width="0.9"/>
<line x1="151.5" y1="277.1" x2="151.5" y2="269.6" stroke="#000" stroke-width="0.8"/>
<line x1="149.5" y1="269.6" x2="153.5" y2="269.6" stroke="#000" stroke-width="0.8"/>
<line x1="43.75" y1="343.4" x2="43.75" y2="346.2" stroke="#000" stroke-width="1"/>
<line x1="70" y1="343.4" x2="70" y2="346.2" stroke="#000" stroke-width="1"/>
<line x1="95.5" y1="343.4" x2="95.5" y2="346.2" stroke="#000" stroke-width="1"/>
<line x1="120.5" y1="343.4" x2="120.5" y2="346.2" stroke="#000" stroke-width="1"/>
<line x1="146.25" y1="343.4" x2="146.25" y2="346.2" stroke="#000" stroke-width="1"/>
<text x="94.9" y="351.0" font-size="6.1" font-weight="bold" text-anchor="middle" fill="#000" stroke="#000" stroke-width="0.18">1uM</text>
<text x="120.8" y="351.0" font-size="6.0" font-weight="bold" text-anchor="middle" fill="#000" stroke="#000" stroke-width="0.18">10uM</text>
<line x1="41.2" y1="353.1" x2="63.1" y2="353.1" stroke="#999" stroke-width="0.5"/>
<text x="52.9" y="362.0" font-size="5.8" font-weight="normal" text-anchor="middle" fill="#000" stroke="#000" stroke-width="0.32">Untreated</text>
<line x1="94.7" y1="353.4" x2="132" y2="353.4" stroke="#555" stroke-width="0.5"/>
<text x="110.6" y="361.0" font-size="5.4" font-weight="normal" text-anchor="middle" fill="#000" stroke="#000" stroke-width="0.32">CAL-101</text>
<line x1="68.8" y1="361.4" x2="133.6" y2="361.4" stroke="#777" stroke-width="0.5" stroke-dasharray="0.8 0.6"/>
<text x="100.8" y="370.0" font-size="5.6" font-weight="normal" text-anchor="middle" fill="#000" stroke="#000" stroke-width="0.32">0.5uM Lena.</text>
<line x1="141" y1="354.6" x2="163.3" y2="354.6" stroke="#999" stroke-width="0.5"/>
<text x="151.4" y="362.0" font-size="5.8" font-weight="normal" text-anchor="middle" fill="#000" stroke="#000" stroke-width="0.32">Normal</text>
<text x="151.3" y="369.0" font-size="5.5" font-weight="normal" text-anchor="middle" fill="#000" stroke="#000" stroke-width="0.32">T-cells</text>
<text x="95.8" y="382.0" font-size="6.2" font-weight="bold" text-anchor="middle" fill="#000" stroke="#000" stroke-width="0.19">Treatment Conditions</text>
<rect x="168.2" y="271.6" width="12.8" height="4.2" fill="#111" stroke="#000" stroke-width="0.6"/>
<rect x="168.2" y="280.6" width="12.8" height="4.0" fill="#808080" stroke="#000" stroke-width="0.6"/>
<text x="182.6" y="276.0" font-size="6.9" font-weight="normal" text-anchor="start" fill="#000" stroke="#000" stroke-width="0.15">Untreated</text>
<text x="182.6" y="285.0" font-size="7" font-weight="normal" text-anchor="start" fill="#000" stroke="#000" stroke-width="0.15">PWM</text>
</svg>
</body></html>
